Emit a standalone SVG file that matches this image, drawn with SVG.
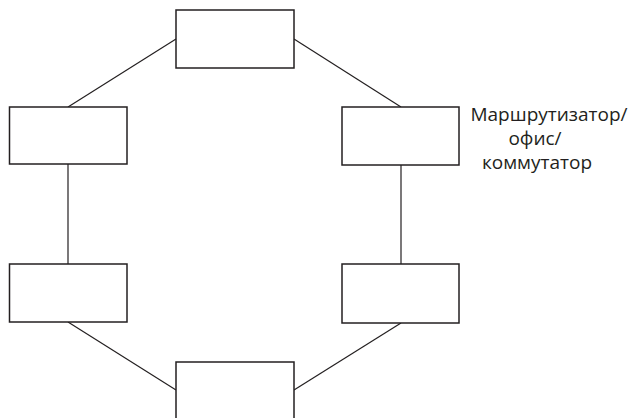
<svg xmlns="http://www.w3.org/2000/svg" width="631" height="418" viewBox="0 0 631 418">
<style>
.n{fill:#fff;stroke:#231f20;stroke-width:1.5}
.c{stroke:#231f20;stroke-width:1.2;fill:none}
.t{font-family:"Open Sans","Liberation Sans",sans-serif;font-size:19px;fill:#231f20;text-anchor:middle}
</style>
<rect width="631" height="418" fill="#fff"/>
<g id="connectors">
<line class="c" x1="176" y1="39" x2="68" y2="107"/>
<line class="c" x1="294" y1="39" x2="401" y2="107"/>
<line class="c" x1="68" y1="164" x2="68" y2="264"/>
<line class="c" x1="401" y1="165" x2="401" y2="264"/>
<line class="c" x1="68" y1="322" x2="176" y2="390"/>
<line class="c" x1="401" y1="323" x2="294" y2="390"/>
</g>
<g id="top"><rect class="n" x="176" y="10" width="118" height="58"/></g>
<g id="left-mid"><rect class="n" x="9.5" y="107" width="117.5" height="57"/></g>
<g id="right-mid"><rect class="n" x="342" y="107" width="117" height="58"/></g>
<g id="left-bot"><rect class="n" x="9.5" y="264" width="117.5" height="58"/></g>
<g id="right-bot"><rect class="n" x="342" y="264" width="117" height="59"/></g>
<g id="bottom"><rect class="n" x="176" y="362" width="118" height="70"/></g>
<g id="label">
<text class="t" x="549" y="121">Маршрутизатор/</text>
<text class="t" x="535" y="145">офис/</text>
<text class="t" x="537" y="169">коммутатор</text>
</g>
</svg>
